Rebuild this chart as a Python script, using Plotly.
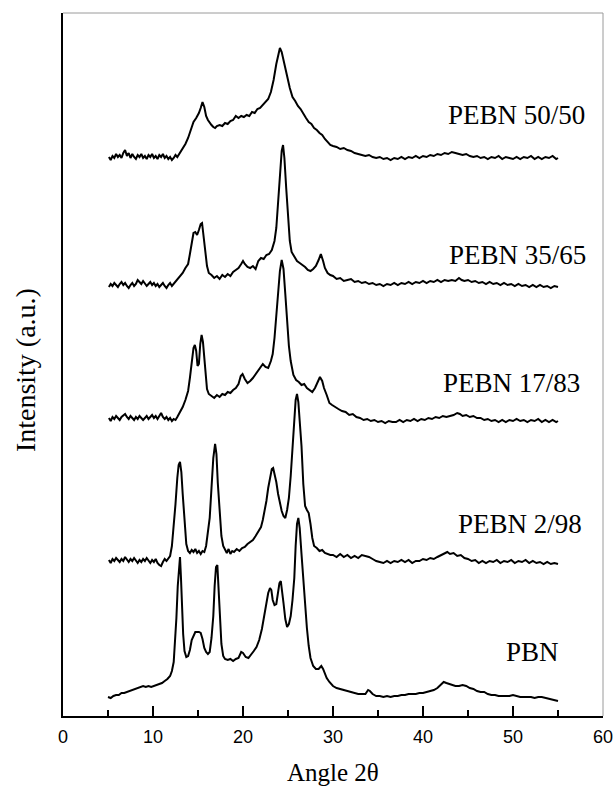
import plotly.graph_objects as go

# (angle 2theta, intensity a.u., stacked)
pebn_50_50 = [(5.1,559),(5.3,556),(5.5,560),(5.7,558),(5.9,562),(6.1,559),(6.3,561),(6.5,558),(6.7,563),(6.9,566),(7.1,560),(7.3,563),(7.5,558),(7.7,562),(7.9,559),(8.1,557),(8.3,561),(8.5,559),(8.7,562),(8.9,558),(9.1,560),(9.3,557),(9.5,561),(9.7,559),(9.9,562),(10.1,558),(10.3,560),(10.5,557),(10.7,561),(10.9,559),(11.1,562),(11.3,558),(11.5,560),(11.7,557),(11.9,559),(12.1,556),(12.3,558),(12.5,561),(12.7,559),(12.9,562),(13.1,564),(13.3,567),(13.6,572),(13.9,578),(14.2,587),(14.5,594),(14.8,598),(15.1,603),(15.3,608),(15.5,614),(15.7,609),(15.9,600),(16.1,596),(16.3,593),(16.5,591),(16.7,589),(16.9,588),(17.1,590),(17.4,591),(17.7,590),(18.0,593),(18.3,592),(18.6,595),(18.9,596),(19.2,600),(19.5,598),(19.8,600),(20.1,599),(20.4,601),(20.7,600),(21.0,604),(21.3,603),(21.6,607),(21.9,608),(22.2,611),(22.5,614),(22.8,617),(23.1,624),(23.4,636),(23.7,652),(23.9,662),(24.1,668),(24.3,664),(24.5,657),(24.7,650),(24.9,640),(25.2,628),(25.5,619),(25.8,615),(26.1,610),(26.4,607),(26.7,602),(27.0,598),(27.3,594),(27.6,592),(27.9,588),(28.2,586),(28.5,583),(28.8,581),(29.1,577),(29.4,574),(29.7,571),(30.0,570),(30.4,569),(30.8,567),(31.2,568),(31.6,566),(32.0,565),(32.4,563),(32.8,562),(33.2,561),(33.6,560),(34.0,561),(34.4,559),(34.8,558),(35.2,559),(35.6,557),(36.0,558),(36.4,556),(36.8,558),(37.2,557),(37.6,559),(38.0,557),(38.4,559),(38.8,558),(39.2,560),(39.6,558),(40.0,560),(40.4,559),(40.8,561),(41.2,560),(41.6,562),(42.0,561),(42.4,563),(42.8,562),(43.2,564),(43.6,563),(44.0,562),(44.4,561),(44.8,562),(45.2,560),(45.6,559),(46.0,560),(46.4,558),(46.8,559),(47.2,557),(47.6,559),(48.0,558),(48.4,560),(48.8,557),(49.2,559),(49.6,558),(50.0,557),(50.4,559),(50.8,557),(51.2,559),(51.6,558),(52.0,560),(52.4,557),(52.8,559),(53.2,557),(53.6,559),(54.0,558),(54.4,560),(54.8,557),(55.0,558)]

pebn_35_65 = [(5.1,429),(5.3,432),(5.5,430),(5.7,433),(5.9,431),(6.1,429),(6.3,432),(6.5,434),(6.7,431),(6.9,433),(7.1,430),(7.3,428),(7.5,431),(7.7,433),(7.9,430),(8.1,432),(8.3,436),(8.5,434),(8.7,432),(8.9,435),(9.1,433),(9.3,430),(9.5,432),(9.7,434),(9.9,431),(10.1,433),(10.3,430),(10.5,432),(10.7,429),(10.9,431),(11.1,433),(11.3,430),(11.5,428),(11.7,431),(11.9,433),(12.1,430),(12.3,432),(12.5,434),(12.7,436),(12.9,438),(13.1,441),(13.3,443),(13.6,448),(13.9,452),(14.1,462),(14.3,474),(14.5,483),(14.7,484),(14.9,481),(15.1,486),(15.3,492),(15.45,493),(15.6,482),(15.8,466),(16.0,450),(16.2,443),(16.5,441),(16.8,438),(17.1,440),(17.4,437),(17.7,441),(18.0,439),(18.3,442),(18.6,440),(18.9,444),(19.2,446),(19.5,448),(19.8,452),(20.0,455),(20.2,452),(20.5,449),(20.8,448),(21.1,450),(21.4,447),(21.7,455),(22.0,458),(22.3,457),(22.6,461),(22.9,462),(23.2,466),(23.5,475),(23.7,488),(23.9,512),(24.1,540),(24.3,565),(24.45,571),(24.6,558),(24.8,528),(25.0,498),(25.2,475),(25.4,464),(25.7,460),(26.0,455),(26.3,453),(26.6,451),(26.9,449),(27.2,446),(27.5,445),(27.8,447),(28.1,450),(28.4,456),(28.65,462),(28.9,455),(29.1,448),(29.4,443),(29.7,441),(30.0,440),(30.4,437),(30.8,438),(31.2,435),(31.6,436),(32.0,437),(32.4,434),(32.8,435),(33.2,433),(33.6,434),(34.0,432),(34.4,433),(34.8,431),(35.2,432),(35.6,430),(36.0,432),(36.4,431),(36.8,433),(37.2,431),(37.6,433),(38.0,432),(38.4,434),(38.8,432),(39.2,434),(39.6,433),(40.0,435),(40.4,433),(40.8,435),(41.2,434),(41.6,436),(42.0,434),(42.4,436),(42.8,435),(43.2,436),(43.6,435),(44.0,438),(44.3,436),(44.6,435),(45.0,436),(45.4,434),(45.8,435),(46.2,433),(46.6,434),(47.0,432),(47.4,434),(47.8,432),(48.2,433),(48.6,431),(49.0,433),(49.4,431),(49.8,432),(50.2,430),(50.6,432),(51.0,430),(51.4,431),(51.8,429),(52.2,431),(52.6,429),(53.0,431),(53.4,429),(53.8,430),(54.2,428),(54.6,430),(55.0,429)]

pebn_17_83 = [(5.1,298),(5.3,295),(5.5,299),(5.7,297),(5.9,300),(6.1,298),(6.3,296),(6.5,299),(6.7,301),(6.9,302),(7.1,299),(7.3,297),(7.5,300),(7.7,298),(7.9,296),(8.1,299),(8.3,297),(8.5,300),(8.7,298),(8.9,296),(9.1,298),(9.3,300),(9.5,297),(9.7,299),(9.9,301),(10.1,298),(10.3,300),(10.5,297),(10.7,300),(10.9,303),(11.1,299),(11.3,297),(11.5,299),(11.7,296),(11.9,298),(12.1,295),(12.3,297),(12.5,296),(12.7,299),(12.9,302),(13.1,305),(13.3,309),(13.6,316),(13.9,325),(14.1,338),(14.3,354),(14.5,368),(14.65,371),(14.8,365),(14.95,350),(15.1,352),(15.25,372),(15.4,381),(15.55,374),(15.7,358),(15.85,338),(16.0,327),(16.2,322),(16.5,320),(16.8,318),(17.1,321),(17.4,319),(17.7,322),(18.0,321),(18.3,324),(18.6,323),(18.9,326),(19.2,328),(19.5,332),(19.75,340),(19.95,342),(20.2,337),(20.5,333),(20.8,335),(21.1,338),(21.4,342),(21.7,345),(22.0,349),(22.2,352),(22.5,349),(22.8,348),(23.1,355),(23.3,362),(23.5,378),(23.7,400),(23.9,422),(24.1,445),(24.3,456),(24.5,447),(24.7,422),(24.9,395),(25.1,370),(25.3,355),(25.6,341),(25.9,336),(26.2,334),(26.5,331),(26.8,332),(27.1,328),(27.4,326),(27.7,324),(28.0,328),(28.3,334),(28.55,339),(28.8,335),(29.0,328),(29.3,321),(29.6,313),(29.9,311),(30.2,309),(30.6,307),(31.0,305),(31.4,304),(31.8,301),(32.2,302),(32.6,299),(33.0,298),(33.4,296),(33.8,297),(34.2,295),(34.6,296),(35.0,294),(35.4,295),(35.8,293),(36.2,295),(36.6,294),(37.0,294),(37.4,296),(37.8,294),(38.2,296),(38.6,295),(39.0,297),(39.4,295),(39.8,297),(40.2,296),(40.6,298),(41.0,297),(41.4,299),(41.8,298),(42.2,300),(42.6,299),(43.0,300),(43.4,301),(43.8,303),(44.1,302),(44.4,300),(44.8,301),(45.2,299),(45.6,300),(46.0,298),(46.4,298),(46.8,296),(47.2,297),(47.6,295),(48.0,296),(48.4,294),(48.8,296),(49.2,294),(49.6,296),(50.0,295),(50.4,297),(50.8,295),(51.2,296),(51.6,294),(52.0,296),(52.4,295),(52.8,297),(53.2,294),(53.6,296),(54.0,294),(54.4,296),(54.8,294),(55.0,295)]

pebn_2_98 = [(5.1,156),(5.3,153),(5.5,157),(5.7,155),(5.9,158),(6.1,156),(6.3,154),(6.5,157),(6.7,155),(6.9,159),(7.1,157),(7.3,154),(7.5,157),(7.7,155),(7.9,158),(8.1,156),(8.3,153),(8.5,156),(8.7,154),(8.9,157),(9.1,155),(9.3,158),(9.5,155),(9.7,153),(9.9,156),(10.1,154),(10.3,157),(10.5,153),(10.7,151),(10.9,150),(11.1,154),(11.3,157),(11.5,155),(11.7,158),(11.9,160),(12.1,170),(12.3,188),(12.5,212),(12.7,238),(12.85,251),(13.0,254),(13.15,244),(13.3,222),(13.5,192),(13.7,172),(13.9,165),(14.1,163),(14.3,166),(14.5,164),(14.7,167),(14.9,163),(15.1,165),(15.3,162),(15.5,165),(15.7,164),(15.9,170),(16.1,182),(16.3,198),(16.5,228),(16.7,258),(16.9,272),(17.05,262),(17.2,233),(17.4,200),(17.6,180),(17.8,170),(18.0,166),(18.2,163),(18.4,167),(18.6,162),(18.8,165),(19.0,164),(19.3,167),(19.6,165),(19.9,168),(20.2,169),(20.5,172),(20.8,174),(21.1,176),(21.4,180),(21.7,184),(22.0,189),(22.2,196),(22.4,205),(22.6,215),(22.8,228),(23.0,240),(23.2,247),(23.35,248),(23.5,243),(23.7,234),(23.9,222),(24.1,212),(24.3,205),(24.5,200),(24.7,198),(24.9,206),(25.1,218),(25.3,240),(25.5,268),(25.7,298),(25.85,316),(26.0,322),(26.15,314),(26.3,295),(26.5,270),(26.7,232),(26.9,210),(27.1,206),(27.3,203),(27.5,192),(27.7,178),(27.9,170),(28.2,168),(28.5,165),(28.8,166),(29.1,163),(29.4,162),(29.7,161),(30.0,161),(30.4,159),(30.8,162),(31.2,159),(31.6,161),(32.0,158),(32.4,160),(32.8,158),(33.2,161),(33.6,160),(34.0,159),(34.4,157),(34.8,155),(35.2,154),(35.6,153),(36.0,155),(36.4,153),(36.8,155),(37.2,154),(37.6,156),(38.0,154),(38.4,156),(38.8,153),(39.2,155),(39.6,155),(40.0,157),(40.4,156),(40.8,158),(41.2,157),(41.6,159),(42.0,161),(42.4,163),(42.7,164),(43.0,162),(43.4,163),(43.8,160),(44.2,161),(44.6,158),(45.0,157),(45.4,155),(45.8,156),(46.2,153),(46.6,155),(47.0,153),(47.4,155),(47.8,154),(48.2,156),(48.6,153),(49.0,155),(49.4,154),(49.8,156),(50.2,153),(50.6,155),(51.0,154),(51.4,156),(51.8,153),(52.2,155),(52.6,153),(53.0,154),(53.4,152),(53.8,154),(54.2,152),(54.6,153),(55.0,152)]

pbn = [(5.0,19),(5.3,18),(5.6,20),(5.9,21),(6.2,21),(6.5,23),(6.8,23),(7.1,24),(7.4,25),(7.7,26),(8.0,27),(8.3,28),(8.6,29),(8.9,30),(9.2,29),(9.5,30),(9.8,29),(10.1,30),(10.4,31),(10.7,32),(11.0,33),(11.3,35),(11.6,37),(11.9,40),(12.1,45),(12.3,54),(12.45,72),(12.6,98),(12.75,130),(12.9,155),(13.0,159),(13.1,140),(13.2,113),(13.35,82),(13.5,65),(13.7,59),(13.9,60),(14.1,66),(14.3,76),(14.5,81),(14.7,84),(14.9,84),(15.1,84),(15.3,83),(15.5,77),(15.7,68),(15.9,64),(16.1,62),(16.3,64),(16.5,78),(16.7,100),(16.85,130),(17.0,149),(17.15,151),(17.3,125),(17.45,95),(17.6,72),(17.8,60),(18.0,57),(18.3,56),(18.6,57),(18.9,55),(19.2,57),(19.5,58),(19.8,64),(20.0,63),(20.3,59),(20.6,58),(20.9,61),(21.2,65),(21.5,69),(21.8,76),(22.1,87),(22.4,103),(22.6,114),(22.8,123),(23.0,128),(23.15,126),(23.3,116),(23.5,111),(23.7,112),(23.9,122),(24.05,133),(24.2,135),(24.35,126),(24.5,113),(24.7,97),(24.9,89),(25.1,92),(25.3,100),(25.5,116),(25.7,138),(25.85,170),(26.0,192),(26.15,198),(26.3,188),(26.5,162),(26.7,135),(26.9,108),(27.1,88),(27.3,70),(27.5,58),(27.8,50),(28.1,47),(28.4,47),(28.7,50),(28.9,47),(29.1,42),(29.3,38),(29.6,34),(30.0,30),(30.4,28),(30.8,27),(31.2,26),(31.6,25),(32.0,24),(32.4,23),(32.8,22),(33.2,22),(33.6,22),(33.9,26),(34.1,25),(34.4,22),(34.8,20),(35.2,20),(35.6,19),(36.0,20),(36.4,19),(36.8,20),(37.2,20),(37.6,21),(38.0,21),(38.4,22),(38.8,22),(39.2,22),(39.6,23),(40.0,23),(40.4,24),(40.8,25),(41.2,26),(41.6,28),(42.0,31),(42.3,34),(42.6,33),(42.9,32),(43.2,31),(43.6,30),(44.0,30),(44.4,31),(44.8,30),(45.2,28),(45.6,27),(46.0,25),(46.4,24),(46.8,24),(47.2,22),(47.6,21),(48.0,21),(48.4,20),(48.8,20),(49.2,20),(49.6,20),(50.0,21),(50.4,20),(50.8,19),(51.2,19),(51.6,19),(52.0,19),(52.4,18),(52.8,19),(53.2,19),(53.6,18),(54.0,17),(54.4,16),(54.8,15),(55.0,15)]

series_names = ["PEBN 50/50", "PEBN 35/65", "PEBN 17/83", "PEBN 2/98", "PBN"]
series_data = [pebn_50_50, pebn_35_65, pebn_17_83, pebn_2_98, pbn]
# label anchor (angle, intensity) for each series label
label_x = [42.5, 42.7, 42.0, 43.7, 49.0]
label_y = [601, 461, 333, 192, 64]

x_ticks = [0, 10, 20, 30, 40, 50, 60]

fig = go.Figure()
for name, data in zip(series_names, series_data):
    fig.add_trace(go.Scatter(
        x=[p[0] for p in data], y=[p[1] for p in data], mode="lines", name=name,
        line=dict(color="black", width=2), showlegend=False))

serif = "Liberation Serif, Times New Roman, serif"
for name, lx, ly in zip(series_names, label_x, label_y):
    fig.add_annotation(x=lx, y=ly, xref="x", yref="y", text=name, showarrow=False,
                       xanchor="left", yanchor="middle",
                       font=dict(family=serif, size=27, color="black"))

fig.add_annotation(x=0.5, y=0, xref="paper", yref="paper", text="Angle 2θ", showarrow=False,
                   xanchor="center", yanchor="middle", yshift=-56,
                   font=dict(family=serif, size=25, color="black"))
fig.add_annotation(x=0, y=0.492, xref="paper", yref="paper", text="Intensity (a.u.)",
                   showarrow=False, textangle=-90, xanchor="center", yanchor="middle",
                   xshift=-38, font=dict(family=serif, size=28, color="black"))

# faint top/right frame as in the scan
fig.add_shape(type="line", xref="paper", yref="paper", x0=0, x1=1, y0=1, y1=1,
              line=dict(color="#9a9a9a", width=1))
fig.add_shape(type="line", xref="paper", yref="paper", x0=1, x1=1, y0=0, y1=1,
              line=dict(color="#9a9a9a", width=1))

fig.update_layout(
    width=615, height=788,
    margin=dict(l=63, r=12, t=13, b=72, autoexpand=False),
    paper_bgcolor="white", plot_bgcolor="white",
    xaxis=dict(range=[0, 60], tickvals=x_ticks, ticktext=[str(t) for t in x_ticks],
               ticks="inside", ticklen=10, tickwidth=2, tickcolor="black",
               minor=dict(tickvals=[5, 15, 25, 35, 45, 55], ticks="inside", ticklen=6,
                          tickwidth=2, tickcolor="black"),
               automargin=False, ticklabelstandoff=3,
               showline=True, linecolor="black", linewidth=2, showgrid=False, zeroline=False,
               tickfont=dict(family="Liberation Sans, Arial, sans-serif", size=18, color="black")),
    yaxis=dict(range=[0, 703], showticklabels=False, ticks="", showline=True, automargin=False,
               linecolor="black", linewidth=2, showgrid=False, zeroline=False),
)

fig.write_html("out.html")
